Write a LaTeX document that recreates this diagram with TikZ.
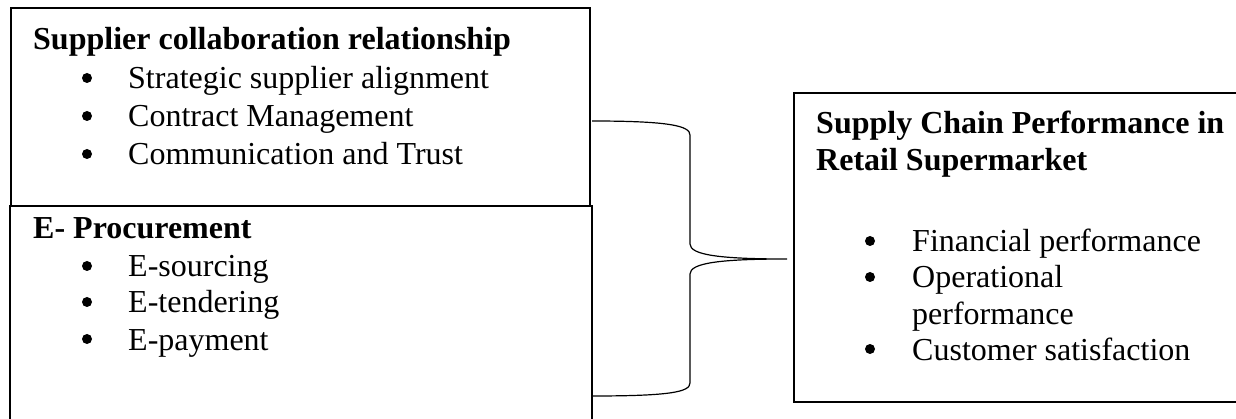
\documentclass[tikz,border=0pt]{standalone}
\usepackage{fontspec}
\setmainfont{Liberation Serif}
\begin{document}
\begin{tikzpicture}[x=1pt,y=-1pt,
  box/.style={draw,line width=2pt},
  ttl/.style={anchor=base west,inner sep=0pt,font=\fontsize{32}{36}\selectfont\bfseries},
  itm/.style={anchor=base west,inner sep=0pt,font=\fontsize{32}{36}\selectfont},
  bul/.style={circle,fill,inner sep=0pt,minimum size=10pt},
  brace/.style={draw,line width=1.2pt}]
\clip (0,0) rectangle (1236,419);
\fill[white] (0,0) rectangle (1236,419);
% boxes
\draw[box] (11,8) rectangle (590,206);
\draw[box] (10,206) rectangle (592,440);
\draw[box] (794,93) rectangle (1260,402);
% box 1 text
\node[ttl] (t1) at (33,50) {Supplier collaboration relationship};
\node[bul] (b11) at (87,78) {};
\node[itm] (i11) at (128,89) {Strategic supplier alignment};
\node[bul] (b12) at (87,116) {};
\node[itm] (i12) at (128,127) {Contract Management};
\node[bul] (b13) at (87,154) {};
\node[itm] (i13) at (128,165) {Communication and Trust};
% box 2 text
\node[ttl] (t2) at (33,239) {E- Procurement};
\node[bul] (b21) at (87,266) {};
\node[itm] (i21) at (128,277) {E-sourcing};
\node[bul] (b22) at (87,302) {};
\node[itm] (i22) at (128,313) {E-tendering};
\node[bul] (b23) at (87,339) {};
\node[itm] (i23) at (128,350) {E-payment};
% right box text
\node[ttl] (t3) at (816,134) {Supply Chain Performance in};
\node[ttl] (t4) at (816,171) {Retail Supermarket};
\node[bul] (b31) at (870,241) {};
\node[itm] (i31) at (912,252) {Financial performance};
\node[bul] (b32) at (870,277) {};
\node[itm] (i32) at (912,288) {Operational};
\node[itm] (i33) at (912,324) {performance};
\node[bul] (b34) at (870,349) {};
\node[itm] (i34) at (912,360) {Customer satisfaction};
% brace
\coordinate (bt) at (592,121);
\coordinate (bb) at (592,396);
\coordinate (tip) at (787,259);
\draw[brace] (bt) .. controls (670,121) and (690,126) .. (690,135)
  -- (690,244) .. controls (690,255) and (720,259) .. (tip)
  .. controls (720,259) and (690,263) .. (690,274)
  -- (690,383) .. controls (690,392) and (670,396) .. (bb);
\end{tikzpicture}
\end{document}
